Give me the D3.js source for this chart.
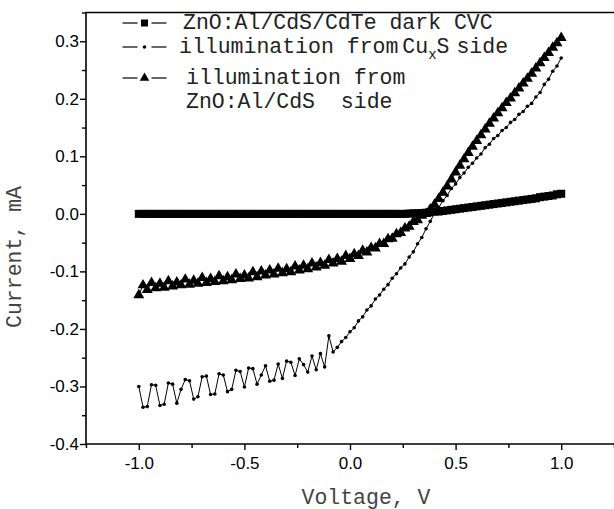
<!DOCTYPE html>
<html>
<head>
<meta charset="utf-8">
<script src="https://cdn.jsdelivr.net/npm/d3@7"></script>
<style>
	body { margin: 0; background: #fff; }
	svg { display: block; }
	text { white-space: pre; }
</style>
</head>
<body>
<div id="chart"></div>
<script>

// Voltage sweep, V
const voltage = [
	-1.00, -0.98, -0.96, -0.94, -0.92, -0.90, -0.88, -0.86, -0.84, -0.82,
	-0.80, -0.78, -0.76, -0.74, -0.72, -0.70, -0.68, -0.66, -0.64, -0.62,
	-0.60, -0.58, -0.56, -0.54, -0.52, -0.50, -0.48, -0.46, -0.44, -0.42,
	-0.40, -0.38, -0.36, -0.34, -0.32, -0.30, -0.28, -0.26, -0.24, -0.22,
	-0.20, -0.18, -0.16, -0.14, -0.12, -0.10, -0.08, -0.06, -0.04, -0.02,
	0.00, 0.02, 0.04, 0.06, 0.08, 0.10, 0.12, 0.14, 0.16, 0.18,
	0.20, 0.22, 0.24, 0.26, 0.28, 0.30, 0.32, 0.34, 0.36, 0.38,
	0.40, 0.42, 0.44, 0.46, 0.48, 0.50, 0.52, 0.54, 0.56, 0.58,
	0.60, 0.62, 0.64, 0.66, 0.68, 0.70, 0.72, 0.74, 0.76, 0.78,
	0.80, 0.82, 0.84, 0.86, 0.88, 0.90, 0.92, 0.94, 0.96, 0.98,
	1.00
];

// dark CVC, mA
const currentDark = [
	0, 0, 0, 0, 0, 0, 0, 0, 0, 0,
	0, 0, 0, 0, 0, 0, 0, 0, 0, 0,
	0, 0, 0, 0, 0, 0, 0, 0, 0, 0,
	0, 0, 0, 0, 0, 0, 0, 0, 0, 0,
	0, 0, 0, 0, 0, 0, 0, 0, 0, 0,
	0, 0, 0, 0, 0, 0, 0, 0, 0, 0,
	0, 0, 0, 0, 0.0005, 0.001, 0.001, 0.0015, 0.002, 0.003,
	0.004, 0.004, 0.005, 0.006, 0.007, 0.008, 0.009, 0.010, 0.011, 0.012,
	0.013, 0.014, 0.015, 0.016, 0.017, 0.018, 0.019, 0.020, 0.021, 0.022,
	0.023, 0.024, 0.025, 0.026, 0.027, 0.029, 0.030, 0.031, 0.032, 0.034,
	0.035
];

// illumination from CuxS side, mA
const currentCuxS = [
	-0.300, -0.336, -0.335, -0.297, -0.298, -0.333, -0.331, -0.294, -0.296, -0.329,
	-0.305, -0.288, -0.290, -0.322, -0.318, -0.283, -0.282, -0.314, -0.313, -0.278,
	-0.280, -0.309, -0.305, -0.272, -0.274, -0.301, -0.268, -0.269, -0.296, -0.280,
	-0.264, -0.291, -0.289, -0.261, -0.286, -0.256, -0.258, -0.281, -0.252, -0.262,
	-0.275, -0.247, -0.271, -0.243, -0.266, -0.212, -0.240, -0.232, -0.222, -0.215,
	-0.205, -0.198, -0.186, -0.179, -0.167, -0.160, -0.148, -0.141, -0.131, -0.123,
	-0.112, -0.104, -0.094, -0.087, -0.075, -0.066, -0.052, -0.041, -0.026, -0.013,
	0.001, 0.011, 0.023, 0.032, 0.044, 0.052, 0.063, 0.071, 0.081, 0.088,
	0.097, 0.104, 0.115, 0.121, 0.131, 0.136, 0.145, 0.150, 0.159, 0.164,
	0.173, 0.178, 0.187, 0.192, 0.203, 0.211, 0.225, 0.234, 0.248, 0.257,
	0.271
];

// illumination from ZnO:Al/CdS side, mA
const currentZnO = [
	-0.141, -0.124, -0.132, -0.120, -0.129, -0.121, -0.128, -0.117, -0.126, -0.119,
	-0.124, -0.114, -0.123, -0.116, -0.121, -0.111, -0.120, -0.113, -0.118, -0.108,
	-0.117, -0.110, -0.115, -0.105, -0.113, -0.107, -0.112, -0.101, -0.110, -0.100,
	-0.107, -0.098, -0.105, -0.095, -0.103, -0.096, -0.101, -0.091, -0.098, -0.090,
	-0.096, -0.086, -0.093, -0.085, -0.090, -0.080, -0.086, -0.078, -0.083, -0.073,
	-0.078, -0.070, -0.073, -0.064, -0.067, -0.059, -0.060, -0.052, -0.052, -0.044,
	-0.043, -0.035, -0.033, -0.025, -0.022, -0.014, -0.011, -0.003, 0.000, 0.008,
	0.016, 0.026, 0.037, 0.048, 0.060, 0.072, 0.084, 0.095, 0.106, 0.117,
	0.127, 0.137, 0.147, 0.157, 0.166, 0.175, 0.184, 0.193, 0.201, 0.210,
	0.218, 0.227, 0.235, 0.244, 0.253, 0.262, 0.271, 0.280, 0.289, 0.297,
	0.306
];

const xTicks = [-1.0, -0.5, 0.0, 0.5, 1.0];
const xMinorTicks = [-1.25, -0.75, -0.25, 0.25, 0.75, 1.25];
const yTicks = [-0.4, -0.3, -0.2, -0.1, 0.0, 0.1, 0.2, 0.3];
const yMinorTicks = [-0.35, -0.25, -0.15, -0.05, 0.05, 0.15, 0.25, 0.35];

const width = 614;
const height = 509;
const mLeft = 86, mRight = 614, mTop = 12.5, mBottom = 444;

const svg = d3
	.select("#chart")
	.append("svg")
	.attr("width", width)
	.attr("height", height);

const x = d3.scaleLinear().domain([-1.25, 1.25]).range([mLeft, mRight]);
const y = d3.scaleLinear().domain([-0.4, 0.35]).range([mBottom, mTop]);

const mono = "'Liberation Mono', 'Courier New', monospace";
const sans = "'Liberation Sans', Arial, sans-serif";
const fmt = d => d.toFixed(1); // plain hyphen like the original

// frame: left, bottom and top lines (right side falls off the picture)
svg.append("path")
	.attr("d", `M${mRight + 5},${mTop}H${mLeft}V${mBottom}H${mRight + 5}`)
	.attr("fill", "none")
	.attr("stroke", "#000")
	.attr("stroke-width", 1.6);

// x axis
const xAxis = svg.append("g").attr("transform", `translate(0,${mBottom})`);
xAxis.call(d3.axisBottom(x).tickValues(xTicks).tickSize(6).tickFormat(fmt));
xAxis.append("g")
	.call(d3.axisBottom(x).tickValues(xMinorTicks).tickSize(4).tickFormat(""));
xAxis.selectAll(".domain").remove();
xAxis.selectAll("line").attr("stroke-width", 1.4);
xAxis.selectAll("text")
	.attr("font-family", sans)
	.attr("font-size", 17)
	.attr("fill", "#000")
	.attr("dy", "0.95em");

// y axis
const yAxis = svg.append("g").attr("transform", `translate(${mLeft},0)`);
yAxis.call(d3.axisLeft(y).tickValues(yTicks).tickSize(6).tickFormat(fmt));
yAxis.append("g")
	.call(d3.axisLeft(y).tickValues(yMinorTicks).tickSize(4).tickFormat(""));
yAxis.selectAll(".domain").remove();
yAxis.selectAll("line").attr("stroke-width", 1.4);
yAxis.selectAll("text")
	.attr("font-family", sans)
	.attr("font-size", 17)
	.attr("fill", "#000")
	.attr("x", -7);

// axis titles
svg.append("text")
	.attr("x", 366)
	.attr("y", 504)
	.attr("text-anchor", "middle")
	.attr("font-family", mono)
	.attr("font-size", 21.5)
	.attr("fill", "#444")
	.text("Voltage, V");

svg.append("text")
	.attr("transform", "translate(21,257) rotate(-90)")
	.attr("text-anchor", "middle")
	.attr("font-family", mono)
	.attr("font-size", 21.5)
	.attr("fill", "#444")
	.text("Current, mA");

const line = d3.line()
	.x((d, i) => x(voltage[i]))
	.y(d => y(d));

const plot = svg.append("g");

// dark CVC
plot.append("path")
	.datum(currentDark)
	.attr("d", line)
	.attr("fill", "none")
	.attr("stroke", "#000")
	.attr("stroke-width", 1);
plot.append("g")
	.selectAll("rect")
	.data(currentDark)
	.enter()
	.append("rect")
	.attr("x", (d, i) => x(voltage[i]) - 4)
	.attr("y", d => y(d) - 4)
	.attr("width", 8)
	.attr("height", 8)
	.attr("fill", "#000");

// illumination from CuxS side
plot.append("path")
	.datum(currentCuxS)
	.attr("d", line)
	.attr("fill", "none")
	.attr("stroke", "#000")
	.attr("stroke-width", 1);
plot.append("g")
	.selectAll("circle")
	.data(currentCuxS)
	.enter()
	.append("circle")
	.attr("cx", (d, i) => x(voltage[i]))
	.attr("cy", d => y(d))
	.attr("r", 1.8)
	.attr("fill", "#000");

// illumination from ZnO:Al/CdS side
const tri = d3.symbol().type(d3.symbolTriangle).size(52);
plot.append("path")
	.datum(currentZnO)
	.attr("d", line)
	.attr("fill", "none")
	.attr("stroke", "#000")
	.attr("stroke-width", 1);
plot.append("g")
	.selectAll("path")
	.data(currentZnO)
	.enter()
	.append("path")
	.attr("d", tri)
	.attr("transform", (d, i) => `translate(${x(voltage[i])},${y(d)})`)
	.attr("fill", "#000");

// legend
const legend = svg.append("g")
	.attr("font-family", mono)
	.attr("font-size", 21.5)
	.attr("fill", "#222");

const legendRows = [23, 47, 78];
const symX = 144.5;
legendRows.forEach(ly => {
	legend.append("line")
		.attr("x1", symX - 22).attr("x2", symX - 7)
		.attr("y1", ly).attr("y2", ly)
		.attr("stroke", "#000")
		.attr("stroke-width", 1.2);
	legend.append("line")
		.attr("x1", symX + 7).attr("x2", symX + 22)
		.attr("y1", ly).attr("y2", ly)
		.attr("stroke", "#000")
		.attr("stroke-width", 1.2);
});
legend.append("rect")
	.attr("x", symX - 3.5).attr("y", legendRows[0] - 3.5)
	.attr("width", 7).attr("height", 7)
	.attr("fill", "#000");
legend.append("circle")
	.attr("cx", symX).attr("cy", legendRows[1])
	.attr("r", 1.8)
	.attr("fill", "#000");
legend.append("path")
	.attr("d", d3.symbol().type(d3.symbolTriangle).size(40))
	.attr("transform", `translate(${symX},${legendRows[2]})`)
	.attr("fill", "#000");

legend.append("text")
	.attr("x", 183).attr("y", legendRows[0] + 6)
	.text("ZnO:Al/CdS/CdTe dark CVC");

const row2 = legend.append("text")
	.attr("x", 179).attr("y", legendRows[1] + 6);
row2.append("tspan").text("illumination from");
row2.append("tspan").attr("dx", 4).text("Cu");
row2.append("tspan").attr("dy", 6).attr("font-size", 14).text("x");
row2.append("tspan").attr("dy", -6).text("S");
row2.append("tspan").attr("dx", 7).text("side");

legend.append("text")
	.attr("x", 186).attr("y", legendRows[2] + 6)
	.text("illumination from");
legend.append("text")
	.attr("x", 186).attr("y", legendRows[2] + 30)
	.text("ZnO:Al/CdS  side");

</script>
</body>
</html>
